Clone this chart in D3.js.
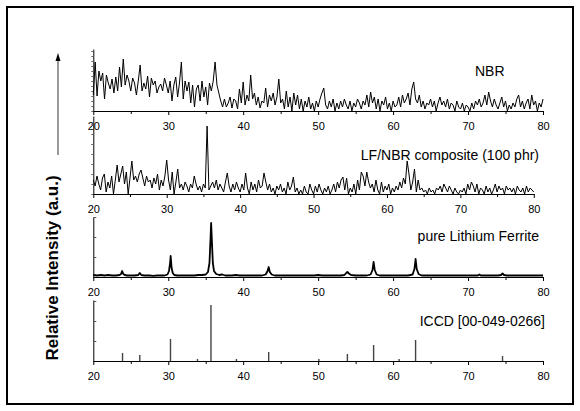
<!DOCTYPE html>
<html><head><meta charset="utf-8">
<script src="https://cdn.jsdelivr.net/npm/d3@7"></script>
<style>body{margin:0;background:#fff}svg{display:block}</style>
</head><body><svg id="c" width="580" height="411"></svg>
<script>
// ---- data ----
const thetaStart = 20, thetaStep = 0.25; // measurement grid of noisy scans
const nbrCounts = [16,49,15,40, 30,38,12,36, 28,22,32,18, 34,20,44,24, 52,26,36,30, 20,33,28,16, 30,46,20,28, 22,35,14,33, 26,30,18,24, 27,20,33,26, 18,30,10,26, 34,14,28,49, 12,30,20,29, 8,26,4,22, 26,10,30,14, 24,6,28,20, 30,49,26,18, 10,4,12,4, 8,14,3,12, 10,2,22,8, 29,6,16,10, 36,12,18,6, 14,3,10,8, 23,4,16,10, 18,6,14,32, 8,12,2,20, 4,14,0,18, 6,16,2,12, 0,10,4,14, 2,8,0,10, 4,12,18,23, 6,2,10,4, 12,0,8,2, 10,4,12,6, 2,10,0,8, 4,12,8,2, 10,6,16,4, 19,8,14,2, 12,0,10,6, 14,2,8,0, 10,4,6,14, 4,16,8,12, 18,6,22,29, 12,8,16,4, 10,2,8,6, 12,4,10,0, 8,14,6,10, 4,12,2,8, 6,0,10,4, 2,8,0,6, 4,0,8,2, 10,6,12,4, 8,16,6,19, 10,4,12,6, 2,8,14,4, 10,0,6,2, 8,4,12,16, 4,10,2,8, 12,2,16,6, 10,0,8,4, 12];
const compositeCounts = [14,8,18,10, 4,16,20,2, 12,6,18,0, 14,29,12,20, 28,10,22,0, 16,33,14,18, 12,20,24,16, 8,18,12,14, 6,16,10,20, 4,14,8,18, 34,14,4,22, 0,12,25,6, 10,4,12,8, 2,10,6,18, 10,4,8,2, 10,6,68,4, 8,12,6,14, 4,10,6,2, 12,21,8,2, 10,4,12,6, 2,10,4,21, 6,0,12,4, 10,2,14,6, 8,21,12,4, 10,2,6,0, 8,4,10,2, 6,0,12,4, 8,17,2,6, 0,4,0,8, 2,0,10,4, 0,8,2,10, 4,0,6,2, 8,0,4,10, 2,12,6,14, 17,4,16,0, 6,2,10,0, 14,4,22,18, 8,22,12,6, 10,2,14,4, 0,12,2,8, 4,10,0,6, 2,8,4,12, 6,16,10,33, 20,4,12,25, 2,14,4,6, 2,4,0,6, 2,4,0,6, 4,8,2,10, 6,2,8,4, 0,6,2,0, 4,2,6,0, 10,4,12,8, 2,10,0,6, 4,0,8,2, 6,0,4,10, 2,8,4,6, 0,8,4,6, 2,6,0,8, 4,2,6,0, 8,2,6,4, 2];
const lfTheta  = [20,20.5,21,21.5,22,22.5,23,23.5,23.7,23.85,24,24.2,24.5,25,25.5,26,26.2,26.4,26.8,27.5,28,28.5,29,29.5,29.9,30.1,30.25,30.32,30.45,30.6,30.8,31.2,31.5,32,32.5,33,33.5,34,34.5,35,35.3,35.5,35.65,35.72,35.8,35.95,36.1,36.4,36.8,37.2,37.6,38,38.5,39,39.5,40,40.5,41,41.5,42,42.5,43,43.25,43.4,43.55,43.8,44.2,44.5,45,45.5,46,46.5,47,47.5,48,48.5,49,49.5,50,50.5,51,51.5,52,52.5,53,53.5,53.75,53.9,54.1,54.4,55,55.5,56,56.5,57,57.25,57.4,57.55,57.8,58.2,58.5,59,59.5,60,60.5,61,61.5,62,62.6,62.85,63,63.15,63.4,63.8,64.2,64.5,65,65.5,66,66.5,67,67.5,68,68.5,69,69.5,70,70.5,71,71.3,71.5,71.7,72,72.5,73,73.5,74,74.4,74.6,74.8,75.2,75.5,76,76.5,77,77.5,78,78.5,79,79.5,80];
const lfCounts = [2,1.5,2,1.5,2,1.5,1.5,2,3,6,3,2,1.5,1.5,1.5,2,4,2,1.5,1.5,1.2,1.5,1.5,1.5,2.5,6,14,21,9,4,2,1.5,1.5,1.5,1.5,1.5,1.5,2,2,2.5,5,14,40,54,40,14,6,3,2,2.5,1.5,1.5,1.5,2,1.5,1.5,1.5,1.5,1.5,1.5,1.5,2.5,6,10,5,2.5,1.5,1.5,1.5,1.5,1.5,1.5,1.5,1.5,1.5,1.5,1.5,1.5,2,1.5,1.5,1.5,1.5,1.5,1.5,2,4,5,3.5,2,1.5,1.5,1.5,1.5,2.5,7,15,7,2.5,1.5,1.5,1.5,1.5,1.5,1.5,1.5,1.5,1.5,2.5,8,18,8,3,1.5,1.5,1.5,1.5,1.5,1.5,1.5,1.5,1.5,1.5,1.5,1.5,1.5,1.5,1.5,1.5,1.5,2.5,1.5,1.5,1.5,1.5,1.5,1.5,2,3.5,2,1.5,1.5,1.5,1.5,1.5,1.5,1.5,1.5,1.5,1.5,1.5];
const iccdTheta  = [23.9, 26.2, 30.3, 33.9, 35.7, 39.1, 43.4, 50.1, 53.9, 57.4, 60.8, 63.0, 74.6];
const iccdCounts = [8, 6, 22, 2, 56, 2, 9, 2, 7, 16, 2, 21, 5];
const xTicks = [20, 30, 40, 50, 60, 70, 80];
const xMinorTicks = [25, 35, 45, 55, 65, 75];
const panelLabels = ["NBR", "LF/NBR composite (100 phr)", "pure Lithium Ferrite", "ICCD [00-049-0266]"];
const yTitle = "Relative Intensity (a.u.)";

// ---- drawing ----
const FONT = "'Liberation Sans', Arial, sans-serif";
const svg = d3.select("#c");
svg.append("rect").attr("x", 7).attr("y", 7).attr("width", 566).attr("height", 397)
  .attr("fill", "none").attr("stroke", "#000").attr("stroke-width", 2);

const panels = [
  {xr: [93.3, 543], base: 111, top: 49, yMax: 62, yTicksIn: false},
  {xr: [93.3, 533.8], base: 194, top: 116, yMax: 78, yTicksIn: false},
  {xr: [93.3, 543], base: 277, top: 217, yMax: 60, yTicksIn: true},
  {xr: [93.3, 543], base: 361, top: 300, yMax: 61, yTicksIn: true}
];
panels.forEach(p => {
  p.x = d3.scaleLinear([20, 80], p.xr);
  p.y = d3.scaleLinear([0, p.yMax], [p.base, p.top]);
  // y axis
  const ya = svg.append("g").attr("transform", `translate(${p.xr[0]},0)`);
  ya.call(d3.axisLeft(p.y).ticks(p.yTicksIn ? 4 : 9).tickSize(p.yTicksIn ? -3 : 2).tickSizeOuter(0).tickFormat(""));
  ya.selectAll(".tick line").attr("stroke", p.yTicksIn ? "#555" : "#666");
  // x axis
  const xa = svg.append("g").attr("transform", `translate(0,${p.base})`);
  xa.call(d3.axisBottom(p.x).tickValues(xTicks).tickSize(4).tickSizeOuter(0).tickPadding(7).tickFormat(d3.format("d")));
  xa.attr("font-size", 11).attr("font-family", FONT);
  xa.selectAll("text").attr("fill", "#000");
  const xm = svg.append("g").attr("transform", `translate(0,${p.base})`);
  xm.call(d3.axisBottom(p.x).tickValues(xMinorTicks).tickSize(3).tickFormat(""));
  xm.select(".domain").remove();
});

const gridTheta = i => thetaStart + i * thetaStep;
// NBR
svg.append("path")
  .attr("d", d3.line().x((d, i) => panels[0].x(gridTheta(i))).y(d => panels[0].y(d))(nbrCounts))
  .attr("fill", "none").attr("stroke", "#000").attr("stroke-width", 1);
// composite
svg.append("path")
  .attr("d", d3.line().x((d, i) => panels[1].x(gridTheta(i))).y(d => panels[1].y(d))(compositeCounts))
  .attr("fill", "none").attr("stroke", "#000").attr("stroke-width", 1);
// pure lithium ferrite
svg.append("path")
  .attr("d", d3.line().x((d, i) => panels[2].x(lfTheta[i])).y(d => panels[2].y(d))(lfCounts))
  .attr("fill", "none").attr("stroke", "#000").attr("stroke-width", 1.8).attr("stroke-linejoin", "round");
// ICCD sticks
svg.append("g").selectAll("line").data(iccdTheta).join("line")
  .attr("x1", d => panels[3].x(d)).attr("x2", d => panels[3].x(d))
  .attr("y1", panels[3].y(0)).attr("y2", (d, i) => panels[3].y(iccdCounts[i]))
  .attr("stroke", "#444").attr("stroke-width", 1.4);

// panel labels
const labelPos = [
  {x: 475, y: 76, anchor: "start"},
  {x: 539, y: 160, anchor: "end"},
  {x: 539, y: 241, anchor: "end"},
  {x: 545, y: 326, anchor: "end"}
];
panelLabels.forEach((t, i) => {
  svg.append("text").attr("x", labelPos[i].x).attr("y", labelPos[i].y)
    .attr("text-anchor", labelPos[i].anchor).attr("font-family", FONT)
    .attr("font-size", 14).attr("fill", "#000").text(t);
});

// y title
svg.append("text").attr("transform", "translate(58,268) rotate(-90)")
  .attr("text-anchor", "middle").attr("font-family", FONT).attr("font-weight", "bold")
  .attr("font-size", 17).attr("fill", "#000").text(yTitle);

// arrow
svg.append("line").attr("x1", 58).attr("x2", 58).attr("y1", 155).attr("y2", 60)
  .attr("stroke", "#808080").attr("stroke-width", 1.6);
svg.append("path").attr("d", "M58,53 L55.5,61 L60.5,61 Z").attr("fill", "#000");
</script>
</body></html>
